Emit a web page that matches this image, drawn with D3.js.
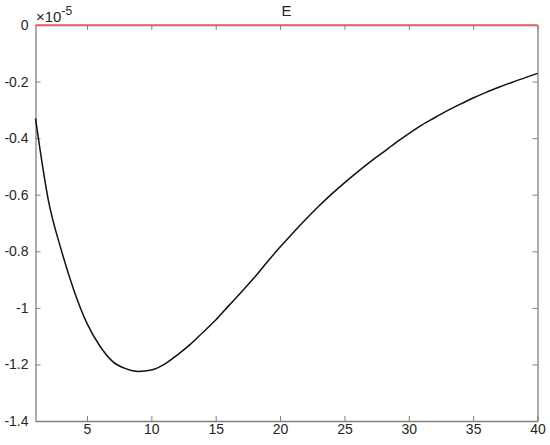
<!DOCTYPE html>
<html><head><meta charset="utf-8">
<script src="https://cdn.jsdelivr.net/npm/d3@7"></script>
<style>body{margin:0;background:#fff}svg{display:block}text{font-family:"Liberation Sans",Arial,sans-serif}</style>
</head><body><svg id="c" width="550" height="445"></svg>
<script>
const xValues = d3.range(1, 41);
const eValues = [-0.33,-0.62,-0.795,-0.94,-1.055,-1.135,-1.19,-1.215,-1.225,-1.22,
  -1.2,-1.167,-1.13,-1.087,-1.043,-0.993,-0.944,-0.893,-0.838,-0.785,
  -0.735,-0.687,-0.641,-0.598,-0.558,-0.52,-0.484,-0.45,-0.416,-0.384,
  -0.354,-0.328,-0.303,-0.28,-0.258,-0.238,-0.22,-0.203,-0.187,-0.171];
const zeroValues = xValues.map(() => 0);
const xTicks = [5,10,15,20,25,30,35,40];
const yTicks = [0,-0.2,-0.4,-0.6,-0.8,-1,-1.2,-1.4];
const yTickLabels = ["0","-0.2","-0.4","-0.6","-0.8","-1","-1.2","-1.4"];
const title = "E";

const svg = d3.select("#c");
const L = 35.5, R = 537.5, T = 25, B = 421;
const x = d3.scaleLinear().domain([1, 40]).range([L, R]);
const y = d3.scaleLinear().domain([-1.4, 0]).range([B, T]);
const axisColor = "#808080", textColor = "#262626";

function style(g){
  g.select(".domain").attr("stroke", axisColor).attr("stroke-width", 1.3);
  g.selectAll(".tick line").attr("stroke", axisColor);
  g.selectAll(".tick text").attr("fill", textColor).attr("font-size", 14);
}
svg.append("g").attr("transform", `translate(0,${B})`)
  .call(d3.axisBottom(x).tickValues(xTicks).tickSizeInner(-5).tickSizeOuter(0).tickPadding(3).tickFormat(d3.format("d")))
  .call(style);
svg.append("g").attr("transform", `translate(0,${T})`)
  .call(d3.axisTop(x).tickValues(xTicks).tickSizeInner(-5).tickSizeOuter(0).tickFormat(""))
  .call(style);
svg.append("g").attr("transform", `translate(${L},0)`)
  .call(d3.axisLeft(y).tickValues(yTicks).tickSizeInner(-5).tickSizeOuter(0).tickPadding(7)
    .tickFormat((d,i) => yTickLabels[i]))
  .call(style);
svg.append("g").attr("transform", `translate(${R},0)`)
  .call(d3.axisRight(y).tickValues(yTicks).tickSizeInner(-5).tickSizeOuter(0).tickFormat(""))
  .call(style);

const line = d3.line().x((d,i) => x(xValues[i])).y(d => y(d)).curve(d3.curveMonotoneX);
svg.append("path").datum(zeroValues).attr("d", line)
  .attr("fill", "none").attr("stroke", "#ff5a5a").attr("stroke-width", 1.5);
svg.append("path").datum(eValues).attr("d", line)
  .attr("fill", "none").attr("stroke", "#111").attr("stroke-width", 1.5).attr("stroke-linejoin", "round");

svg.append("text").attr("x", (L + R) / 2).attr("y", 16).attr("text-anchor", "middle")
  .attr("fill", textColor).attr("font-size", 15).text(title);

const ex = svg.append("text").attr("x", 36).attr("y", 22).attr("fill", textColor).attr("font-size", 15);
ex.append("tspan").text("×10");
ex.append("tspan").attr("dy", -7).attr("font-size", 12).text("-5");
</script></body></html>
